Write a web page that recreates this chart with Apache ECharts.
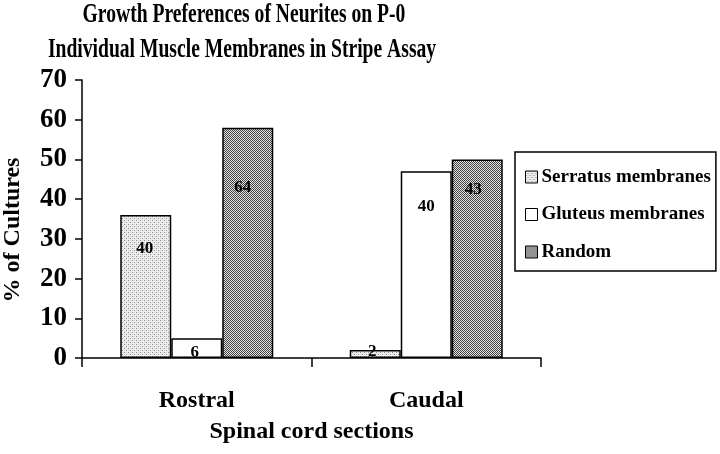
<!DOCTYPE html>
<html>
<head>
<meta charset="utf-8">
<script src="https://cdn.jsdelivr.net/npm/echarts@6/dist/echarts.min.js"></script>
<style>
html,body{margin:0;padding:0;background:#fff;}
#chart{width:720px;height:454px;}
</style>
</head>
<body>
<div id="chart"></div>
<script>
// ---- data ----
const categories = ['Rostral', 'Caudal'];
const seriesNames = ['Serratus membranes', 'Gluteus membranes', 'Random'];
const serratusValues = [36, 2];
const gluteusValues = [5, 47];
const randomValues = [58, 50];
// numbers printed inside the bars (culture counts)
const serratusCounts = [40, 2];
const gluteusCounts = [6, 40];
const randomCounts = [64, 43];
const yTicks = [0, 10, 20, 30, 40, 50, 60, 70];
const titleLines = ['Growth Preferences of Neurites on P-0', 'Individual Muscle Membranes in Stripe Assay'];
const xAxisTitle = 'Spinal cord sections';
const yAxisTitle = '% of Cultures';

// ---- styles ----
const FONT = '"Liberation Serif", "Times New Roman", serif';
function makePattern(size, fill) {
  const c = document.createElement('canvas');
  c.width = size; c.height = size;
  const ctx = c.getContext('2d');
  fill(ctx);
  return c;
}
const stipple = makePattern(4, ctx => {
  ctx.fillStyle = '#efefef'; ctx.fillRect(0, 0, 4, 4);
  ctx.fillStyle = '#8a8a8a'; ctx.fillRect(0, 0, 1, 1); ctx.fillRect(2, 2, 1, 1);
  ctx.fillStyle = '#d4d4d4'; ctx.fillRect(2, 0, 1, 1); ctx.fillRect(0, 2, 1, 1);
});
const checker = makePattern(2, ctx => {
  ctx.fillStyle = '#e6e6e6'; ctx.fillRect(0, 0, 2, 2);
  ctx.fillStyle = '#404040'; ctx.fillRect(0, 0, 1, 1); ctx.fillRect(1, 1, 1, 1);
});
const fills = [
  { image: stipple, repeat: 'repeat' },
  '#ffffff',
  { image: checker, repeat: 'repeat' }
];
// label placement offsets [dx, dy] per series per category (styling only)
const labelShift = [
  [[-1, 25], [-3, -7]],
  [[-2, 6], [0, 27]],
  [[-5, 51], [-4, 22]]
];

const valueSets = [serratusValues, gluteusValues, randomValues];
const countSets = [serratusCounts, gluteusCounts, randomCounts];

const series = seriesNames.map((name, s) => ({
  name: name,
  type: 'bar',
  barWidth: 51,
  barGap: '0%',
  itemStyle: { color: fills[s], borderColor: '#000', borderWidth: 1.5 },
  data: valueSets[s].map((v, i) => ({
    value: v,
    label: {
      show: true,
      position: 'insideTop',
      distance: 0,
      offset: labelShift[s][i],
      formatter: String(countSets[s][i]),
      fontFamily: FONT,
      fontWeight: 'bold',
      fontSize: 17,
      color: '#000'
    }
  }))
}));

const chart = echarts.init(document.getElementById('chart'), null, { renderer: 'canvas' });
chart.setOption({
  backgroundColor: '#fff',
  animation: false,
  graphic: [
    { type: 'text', x: 244, y: 15, scaleX: 0.7, style: { text: titleLines[0], font: 'bold 28px ' + FONT, fill: '#000', textAlign: 'center', textVerticalAlign: 'middle' } },
    { type: 'text', x: 242, y: 50, scaleX: 0.7, style: { text: titleLines[1], font: 'bold 28px ' + FONT, fill: '#000', textAlign: 'center', textVerticalAlign: 'middle' } }
  ],
  grid: { left: 82, right: 179, top: 80, bottom: 96, containLabel: false, outerBoundsMode: 'none' },
  legend: {
    orient: 'vertical',
    left: 515,
    top: 152,
    padding: [15, 5, 9, 10],
    itemGap: 17.5,
    itemWidth: 12,
    itemHeight: 12,
    borderColor: '#000',
    borderWidth: 1.5,
    backgroundColor: '#fff',
    icon: 'rect',
    itemStyle: { borderColor: '#000', borderWidth: 1 },
    textStyle: { fontFamily: FONT, fontWeight: 'bold', fontSize: 19, lineHeight: 20, color: '#000', padding: [0, 0, 0, -1] },
    data: seriesNames
  },
  xAxis: {
    type: 'category',
    data: categories,
    name: xAxisTitle,
    nameLocation: 'middle',
    nameGap: 62,
    nameTextStyle: { fontFamily: FONT, fontWeight: 'bold', fontSize: 24, color: '#000' },
    axisLine: { lineStyle: { color: '#000', width: 1.5 } },
    axisTick: { show: true, length: 9, lineStyle: { color: '#000', width: 1.5 } },
    axisLabel: { margin: 31, fontFamily: FONT, fontWeight: 'bold', fontSize: 24, color: '#000' }
  },
  yAxis: {
    type: 'value',
    min: yTicks[0],
    max: yTicks[yTicks.length - 1],
    interval: yTicks[1] - yTicks[0],
    name: yAxisTitle,
    nameLocation: 'middle',
    nameGap: 57,
    nameTextStyle: { fontFamily: FONT, fontWeight: 'bold', fontSize: 24, color: '#000', padding: [0, 22, 0, 0] },
    axisLine: { show: true, lineStyle: { color: '#000', width: 1.5 } },
    axisTick: { show: true, length: 7, lineStyle: { color: '#000', width: 1.5 } },
    axisLabel: { margin: 15, fontFamily: FONT, fontWeight: 'bold', fontSize: 27, color: '#000' },
    splitLine: { show: false }
  },
  series: series
});
</script>
</body>
</html>
